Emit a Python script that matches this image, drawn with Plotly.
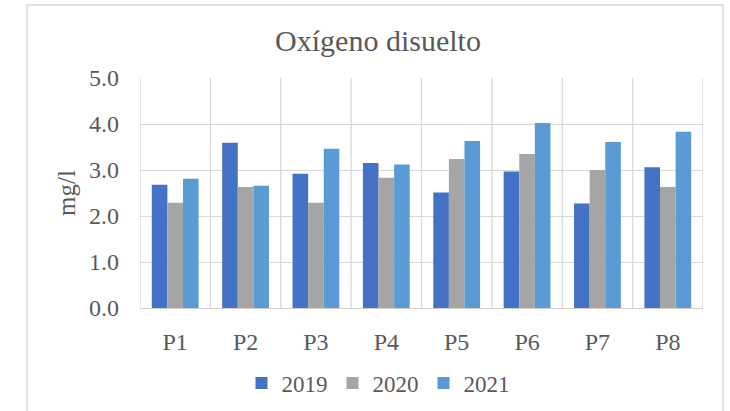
import plotly.graph_objects as go

# Dissolved oxygen (mg/l) per sampling point and year
points = ["P1", "P2", "P3", "P4", "P5", "P6", "P7", "P8"]
years = ["2019", "2020", "2021"]
values_2019 = [2.68, 3.59, 2.92, 3.15, 2.51, 2.97, 2.27, 3.06]
values_2020 = [2.29, 2.63, 2.29, 2.83, 3.24, 3.35, 3.00, 2.63]
values_2021 = [2.81, 2.66, 3.46, 3.12, 3.63, 4.02, 3.61, 3.83]
colors = ["#4472C4", "#A5A5A5", "#5B9BD5"]

FONT = "Liberation Serif"
TEXT = "#595959"
GRID = "#D9D9D9"

fig = go.Figure()
for name, vals, col in zip(years, [values_2019, values_2020, values_2021], colors):
    fig.add_trace(go.Bar(x=points, y=vals, name=name, marker=dict(color=col, line=dict(width=0))))

# layout geometry (pixels)
W, H = 730, 411
L, R, T, B = 140, 27, 78, 103
pw, ph = W - L - R, H - T - B

def px_x(x):
    return (x - L) / pw

def px_y(y):
    return (H - B - y) / ph

shapes = []
# vertical separators between categories
for i in range(len(points) + 1):
    shapes.append(dict(type="line", xref="x", yref="paper", x0=i - 0.5, x1=i - 0.5,
                       y0=0, y1=1, line=dict(color=GRID, width=1.3), layer="below"))
# outer chart frame
shapes.append(dict(type="rect", xref="paper", yref="paper",
                   x0=px_x(27), x1=px_x(723), y0=px_y(418), y1=px_y(5),
                   line=dict(color=GRID, width=1.5), layer="below"))

fig.update_layout(
    width=W, height=H,
    margin=dict(l=L, r=R, t=T, b=B, autoexpand=False),
    paper_bgcolor="white", plot_bgcolor="white",
    font=dict(family=FONT, color=TEXT, size=23),
    title=dict(text="Oxígeno disuelto", x=378 / W, xanchor="center",
               y=1 - 40 / H, yanchor="middle", font=dict(size=30, color=TEXT, family=FONT)),
    barmode="group", bargap=0.335, bargroupgap=0,
    showlegend=True,
    legend=dict(orientation="h", x=px_x(378), xanchor="center", y=px_y(383), yanchor="middle",
                font=dict(size=23, color=TEXT, family=FONT), itemsizing="constant",
                tracegroupgap=0, itemwidth=30),
    shapes=shapes,
)
fig.update_xaxes(showgrid=False, showline=True, linecolor="#D5CFC8", linewidth=1.3,
                 ticks="", ticklabelstandoff=12, range=[-0.5, len(points) - 0.5],
                 automargin=False, tickfont=dict(size=24, color=TEXT, family=FONT))
fig.update_yaxes(range=[0, 5], dtick=1, tickformat=".1f", showgrid=True, gridcolor=GRID,
                 gridwidth=1.3, zeroline=False, showline=False, ticks="", ticklabelstandoff=20,
                 automargin=False, tickfont=dict(size=24, color=TEXT, family=FONT),
                 title=dict(text="mg/l", standoff=6, font=dict(size=25, color=TEXT, family=FONT)))

fig.write_html("out.html")
